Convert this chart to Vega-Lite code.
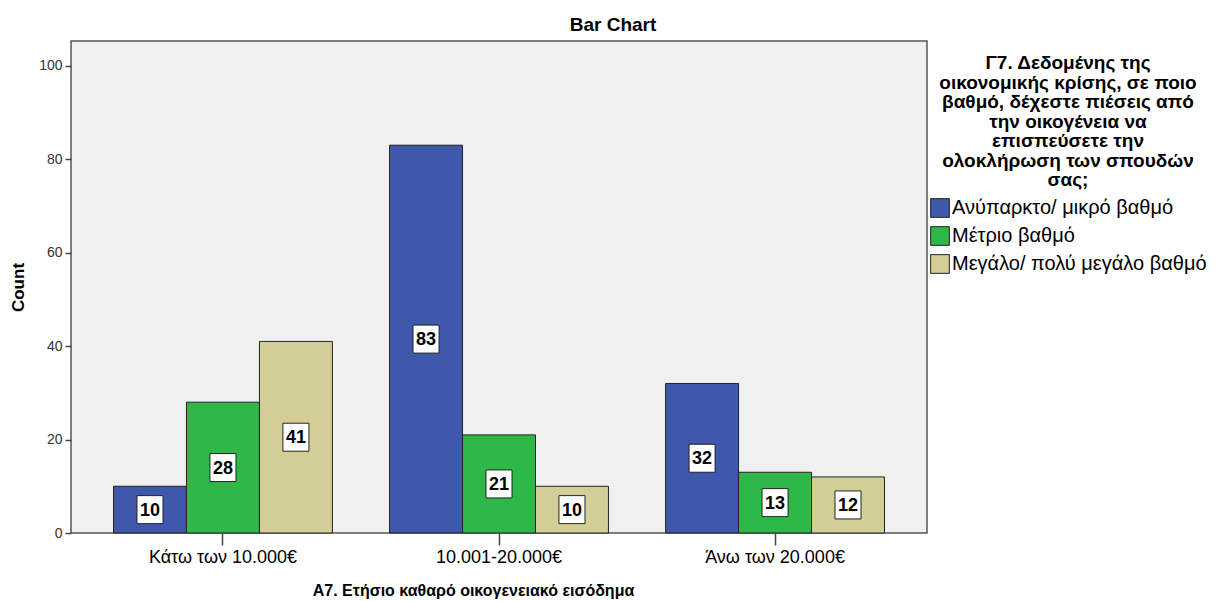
{
  "$schema": "https://vega.github.io/schema/vega-lite/v6.json",
  "width": 856,
  "height": 492,
  "autosize": {"type": "none"},
  "padding": {"left": 71, "top": 41, "right": 290, "bottom": 68},
  "background": "white",
  "title": {"text": "Bar Chart", "anchor": "middle", "frame": "group", "dx": 114, "offset": 9, "dy": 18, "baseline": "alphabetic", "fontSize": 19, "fontWeight": "bold", "font": "Liberation Sans", "color": "#000"},
  "config": {
    "font": "Liberation Sans",
    "view": {"fill": "#F0F0F0", "stroke": "#555555", "strokeWidth": 1.5}
  },
  "data": {"values": [
    {"income": "Κάτω των 10.000€", "answer": "Ανύπαρκτο/ μικρό βαθμό", "count": 10},
    {"income": "Κάτω των 10.000€", "answer": "Μέτριο βαθμό", "count": 28},
    {"income": "Κάτω των 10.000€", "answer": "Μεγάλο/ πολύ μεγάλο βαθμό", "count": 41},
    {"income": "10.001-20.000€", "answer": "Ανύπαρκτο/ μικρό βαθμό", "count": 83},
    {"income": "10.001-20.000€", "answer": "Μέτριο βαθμό", "count": 21},
    {"income": "10.001-20.000€", "answer": "Μεγάλο/ πολύ μεγάλο βαθμό", "count": 10},
    {"income": "Άνω των 20.000€", "answer": "Ανύπαρκτο/ μικρό βαθμό", "count": 32},
    {"income": "Άνω των 20.000€", "answer": "Μέτριο βαθμό", "count": 13},
    {"income": "Άνω των 20.000€", "answer": "Μεγάλο/ πολύ μεγάλο βαθμό", "count": 12}
  ]},
  "encoding": {
    "x": {"field": "income", "type": "nominal", "sort": null,
      "scale": {"paddingInner": 0.207, "paddingOuter": 0.154},
      "axis": {"title": "A7. Ετήσιο καθαρό οικογενειακό εισόδημα", "titleX": 402, "titleY": 57, "titleBaseline": "middle", "titleAnchor": "start", "titleAlign": "center", "titleFontSize": 16, "titleFontWeight": "bold", "titleColor": "#000",
        "labelAngle": 0, "labelFontSize": 18, "labelColor": "#000", "labelPadding": 3, "tickSize": 12, "tickColor": "#444", "tickWidth": 1.5, "domain": false, "grid": false}},
    "xOffset": {"field": "answer", "type": "nominal", "sort": ["Ανύπαρκτο/ μικρό βαθμό", "Μέτριο βαθμό", "Μεγάλο/ πολύ μεγάλο βαθμό"], "scale": {"paddingInner": 0, "paddingOuter": 0}}
  },
  "layer": [
    {
      "mark": {"type": "bar", "stroke": "#222", "strokeWidth": 1},
      "encoding": {
        "y": {"field": "count", "type": "quantitative", "scale": {"domain": [0, 105.3], "nice": false},
          "axis": {"title": "Count", "titleX": -53, "titleY": 246, "titleAngle": -90, "titleBaseline": "middle", "titleAlign": "center", "titleFontSize": 17, "titleFontWeight": "bold", "titleColor": "#000",
            "values": [0, 20, 40, 60, 80, 100], "labelFontSize": 14, "labelColor": "#333", "labelPadding": 3, "tickSize": 6, "tickColor": "#444", "tickWidth": 1.5, "domain": false, "grid": false}},
        "color": {"field": "answer", "type": "nominal", "sort": ["Ανύπαρκτο/ μικρό βαθμό", "Μέτριο βαθμό", "Μεγάλο/ πολύ μεγάλο βαθμό"],
          "scale": {"domain": ["Ανύπαρκτο/ μικρό βαθμό", "Μέτριο βαθμό", "Μεγάλο/ πολύ μεγάλο βαθμό"], "range": ["#3E58AC", "#2EB848", "#D3CE97"]},
          "legend": {"title": ["Γ7. Δεδομένης της", "οικονομικής κρίσης, σε ποιο", "βαθμό, δέχεστε πιέσεις από", "την οικογένεια να", "επισπεύσετε την", "ολοκλήρωση των σπουδών", "σας;"],
            "orient": "none", "legendX": 859, "legendY": 13, "titleAnchor": "middle", "titleAlign": "center", "titleFontSize": 19, "titleFontWeight": "bold", "titleColor": "#000", "titleLineHeight": 19.5, "titlePadding": 8, "titleLimit": 400,
            "symbolType": "square", "symbolSize": 350, "symbolStrokeColor": "#222", "symbolStrokeWidth": 1, "symbolOpacity": 1, "symbolFillColor": null,
            "labelFontSize": 20, "labelColor": "#000", "labelOffset": 2, "labelLimit": 400, "rowPadding": 4}}
      }
    },
    {
      "mark": {"type": "point", "shape": "M-0.93,-1H0.93V1H-0.93Z", "size": 784, "filled": true, "fill": "white", "stroke": "#222", "strokeWidth": 1, "opacity": 1},
      "encoding": {
        "y": {"field": "count", "type": "quantitative", "scale": {"domain": [0, 210.6], "nice": false}, "axis": null}
      }
    },
    {
      "mark": {"type": "text", "fontSize": 18, "fontWeight": "bold", "color": "#000", "baseline": "middle", "align": "center", "dy": 1},
      "encoding": {
        "y": {"field": "count", "type": "quantitative", "scale": {"domain": [0, 210.6], "nice": false}, "axis": null},
        "text": {"field": "count", "type": "quantitative"}
      }
    }
  ],
  "resolve": {"scale": {"y": "independent"}}
}
